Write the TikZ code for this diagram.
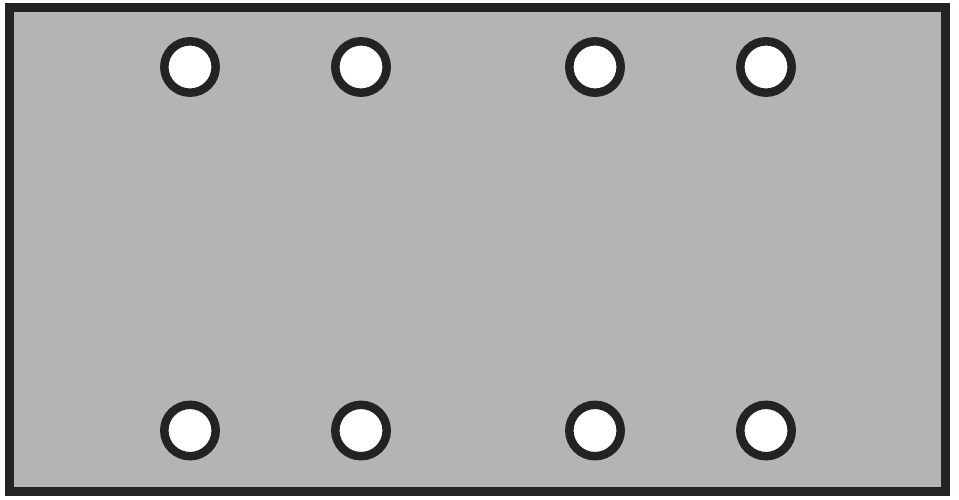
\documentclass[tikz,border=0pt]{standalone}
\usepackage{tikz}
\usepackage[dvipsnames]{xcolor}
\definecolor{plategray}{RGB}{179,180,182}
\definecolor{edgedark}{RGB}{37,34,35}

\begin{document}
\begin{tikzpicture}[x=1pt, y=-1pt]
    \useasboundingbox (0,0) rectangle (959,500);
    \draw[line width=9pt, draw=edgedark, fill=plategray] (9.5,7.5) rectangle (945.5,491); % edit here for the plate
    \foreach \x in {190,361,595,766}{
        \draw[line width=8.5pt, draw=edgedark, fill=white] (\x,67) circle (25.7pt);
        \draw[line width=8.5pt, draw=edgedark, fill=white] (\x,430.5) circle (25.7pt);
    }
\end{tikzpicture}
\end{document}
